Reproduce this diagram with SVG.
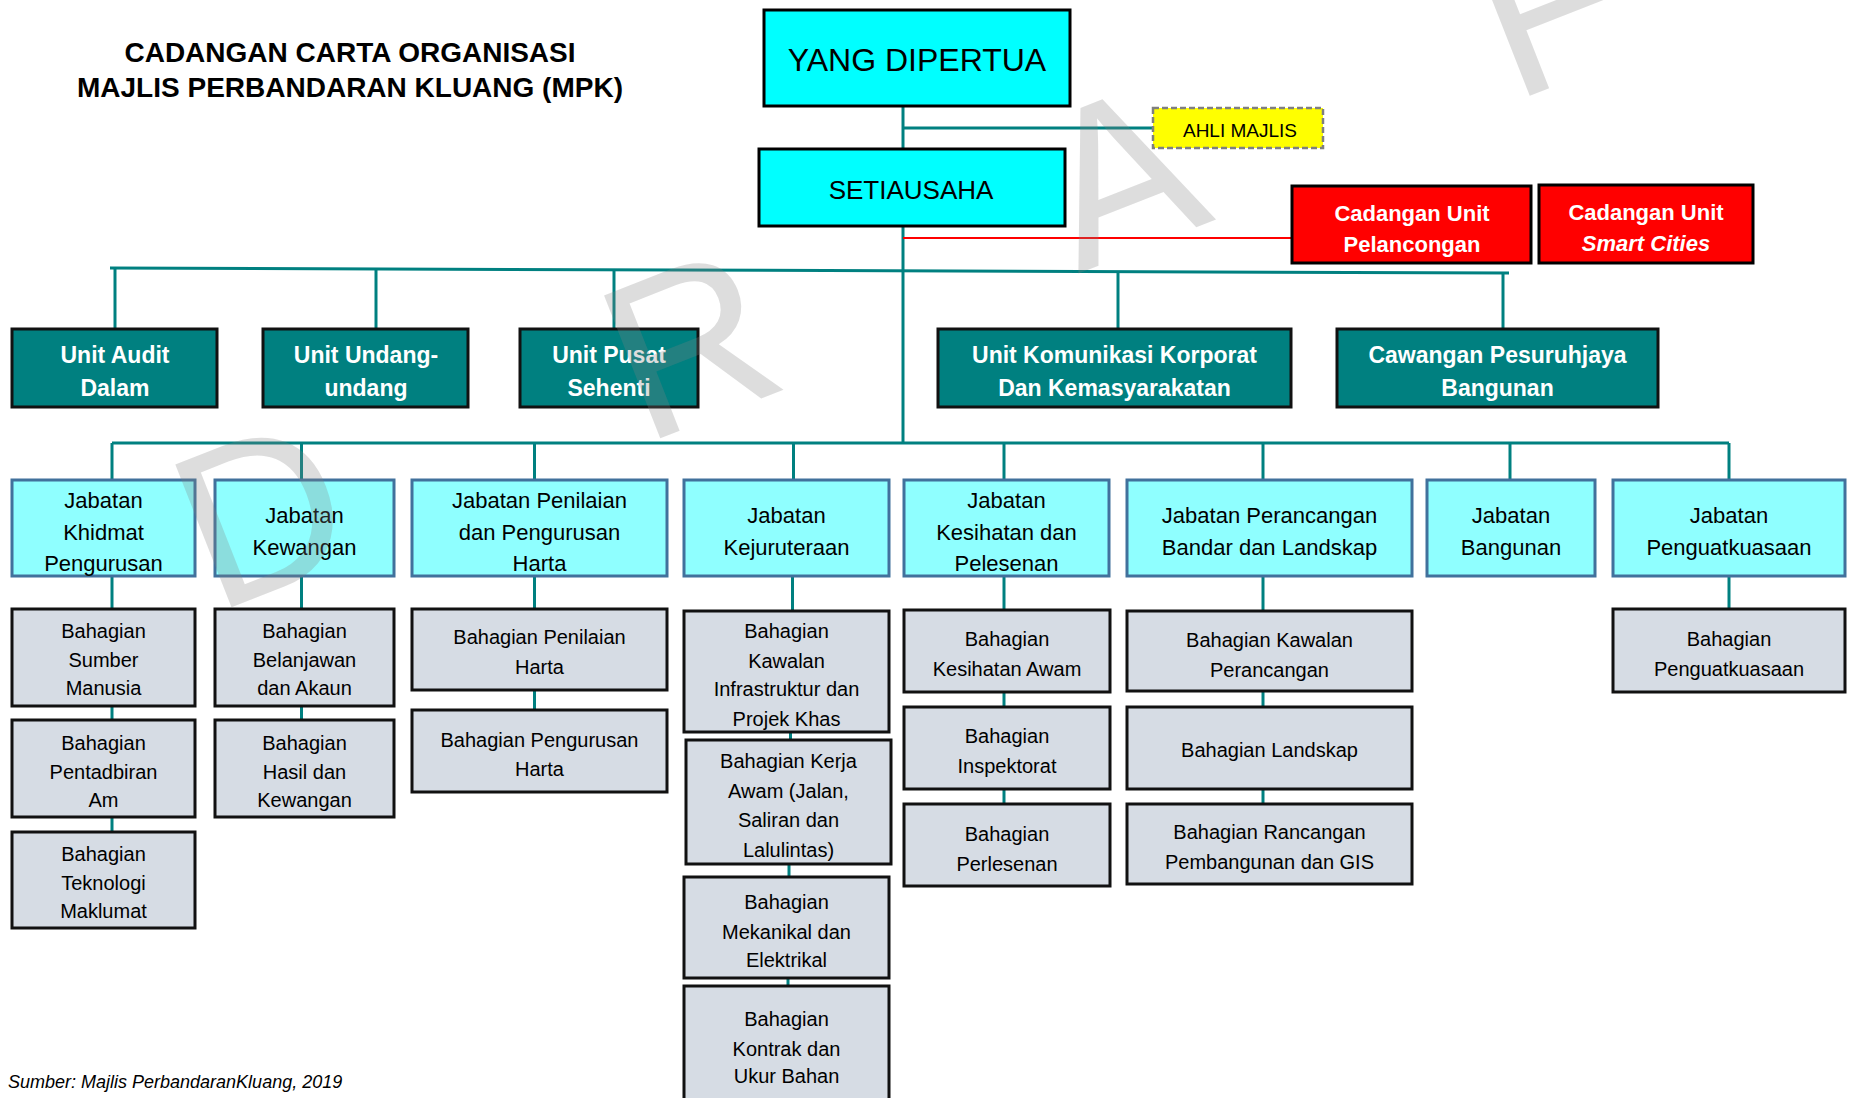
<svg xmlns="http://www.w3.org/2000/svg" width="1850" height="1098" viewBox="0 0 1850 1098">
<style>
text{font-family:"Liberation Sans",Arial,sans-serif;text-anchor:middle;fill:#000}
.title{font-size:28px;font-weight:bold}
.tl{stroke:#008080;stroke-width:3;fill:none}
.rdl{stroke:#FF0000;stroke-width:2;fill:none}
.top{fill:#00FFFF;stroke:#000;stroke-width:3}
.ahli{fill:#FFFF00;stroke:#7F7F7F;stroke-width:2.5;stroke-dasharray:6 3}
.red{fill:#FF0000;stroke:#000;stroke-width:3}
.unit{fill:#008080;stroke:#111;stroke-width:3}
.jab{fill:#8FFFFF;stroke:#41719C;stroke-width:3}
.bah{fill:#D6DCE4;stroke:#111;stroke-width:3}
.wb{fill:#FFFFFF;font-weight:bold;font-size:22px}
.u{fill:#FFFFFF;font-weight:bold;font-size:23px}
.j{font-size:22px}
.b{font-size:20px}
</style>

<g id="title">
<text class="title" x="350" y="62">CADANGAN CARTA ORGANISASI</text>
<text class="title" x="350" y="97">MAJLIS PERBANDARAN KLUANG (MPK)</text>
</g>

<g id="connectors">
<line class="tl" x1="903" y1="106" x2="903" y2="149"/>
<line class="tl" x1="903" y1="128" x2="1153" y2="128"/>
<line class="tl" x1="903" y1="226" x2="903" y2="443"/>
<line class="rdl" x1="903" y1="238" x2="1292" y2="238"/>
<line class="tl" x1="110" y1="268" x2="1509" y2="273"/>
<line class="tl" x1="115" y1="268" x2="115" y2="329"/>
<line class="tl" x1="376" y1="269" x2="376" y2="329"/>
<line class="tl" x1="614" y1="270" x2="614" y2="329"/>
<line class="tl" x1="1118" y1="272" x2="1118" y2="329"/>
<line class="tl" x1="1503" y1="273" x2="1503" y2="329"/>
<line class="tl" x1="112" y1="443" x2="1729" y2="443"/>
<line class="tl" x1="112" y1="443" x2="112" y2="480"/>
<line class="tl" x1="301.5" y1="443" x2="301.5" y2="480"/>
<line class="tl" x1="534.5" y1="443" x2="534.5" y2="480"/>
<line class="tl" x1="793.5" y1="443" x2="793.5" y2="480"/>
<line class="tl" x1="1004" y1="443" x2="1004" y2="480"/>
<line class="tl" x1="1263" y1="443" x2="1263" y2="480"/>
<line class="tl" x1="1510" y1="443" x2="1510" y2="480"/>
<line class="tl" x1="1729" y1="443" x2="1729" y2="480"/>
<line class="tl" x1="112" y1="576" x2="112" y2="609"/>
<line class="tl" x1="112" y1="706" x2="112" y2="720"/>
<line class="tl" x1="112" y1="817" x2="112" y2="832"/>
<line class="tl" x1="301.5" y1="576" x2="301.5" y2="609"/>
<line class="tl" x1="301.5" y1="706" x2="301.5" y2="720"/>
<line class="tl" x1="534.5" y1="576" x2="534.5" y2="609"/>
<line class="tl" x1="534.5" y1="690" x2="534.5" y2="710"/>
<line class="tl" x1="792.5" y1="576" x2="792.5" y2="611"/>
<line class="tl" x1="790.5" y1="732" x2="790.5" y2="740"/>
<line class="tl" x1="789" y1="864" x2="789" y2="877"/>
<line class="tl" x1="788" y1="978" x2="788" y2="986"/>
<line class="tl" x1="1004" y1="576" x2="1004" y2="610"/>
<line class="tl" x1="1004" y1="692" x2="1004" y2="707"/>
<line class="tl" x1="1004" y1="789" x2="1004" y2="804"/>
<line class="tl" x1="1263" y1="576" x2="1263" y2="611"/>
<line class="tl" x1="1263" y1="691" x2="1263" y2="707"/>
<line class="tl" x1="1263" y1="789" x2="1263" y2="804"/>
<line class="tl" x1="1729" y1="576" x2="1729" y2="609"/>
</g>

<g id="yang-dipertua"><rect class="top" x="764" y="10" width="306" height="96"/><text x="917" y="71" font-size="32">YANG DIPERTUA</text></g>
<g id="setiausaha"><rect class="top" x="759" y="149" width="306" height="77"/><text x="911" y="199" font-size="26">SETIAUSAHA</text></g>
<g id="ahli-majlis"><rect class="ahli" x="1153" y="108" width="170" height="40"/><text x="1240" y="137" font-size="19">AHLI MAJLIS</text></g>
<g id="unit-pelancongan"><rect class="red" x="1292" y="186" width="239" height="77"/><text class="wb" x="1412" y="221">Cadangan Unit</text><text class="wb" x="1412" y="252">Pelancongan</text></g>
<g id="unit-smart-cities"><rect class="red" x="1539" y="185" width="214" height="78"/><text class="wb" x="1646" y="220">Cadangan Unit</text><text class="wb" x="1646" y="251" font-style="italic">Smart Cities</text></g>

<g id="unit-audit"><rect class="unit" x="12" y="329" width="205" height="78"/><text class="u" x="115" y="363">Unit Audit</text><text class="u" x="115" y="396">Dalam</text></g>
<g id="unit-undang"><rect class="unit" x="263" y="329" width="205" height="78"/><text class="u" x="366" y="363">Unit Undang-</text><text class="u" x="366" y="396">undang</text></g>
<g id="unit-pusat"><rect class="unit" x="520" y="329" width="178" height="78"/><text class="u" x="609" y="363">Unit Pusat</text><text class="u" x="609" y="396">Sehenti</text></g>
<g id="unit-komunikasi"><rect class="unit" x="938" y="329" width="353" height="78"/><text class="u" x="1114.5" y="363">Unit Komunikasi Korporat</text><text class="u" x="1114.5" y="396">Dan Kemasyarakatan</text></g>
<g id="cawangan-pesuruhjaya"><rect class="unit" x="1337" y="329" width="321" height="78"/><text class="u" x="1497.5" y="363">Cawangan Pesuruhjaya</text><text class="u" x="1497.5" y="396">Bangunan</text></g>

<g id="jab-khidmat"><rect class="jab" x="12" y="480" width="183" height="96"/><text class="j" x="103.5" y="508">Jabatan</text><text class="j" x="103.5" y="539.5">Khidmat</text><text class="j" x="103.5" y="571">Pengurusan</text></g>
<g id="jab-kewangan"><rect class="jab" x="215" y="480" width="179" height="96"/><text class="j" x="304.5" y="523">Jabatan</text><text class="j" x="304.5" y="555">Kewangan</text></g>
<g id="jab-penilaian"><rect class="jab" x="412" y="480" width="255" height="96"/><text class="j" x="539.5" y="508">Jabatan Penilaian</text><text class="j" x="539.5" y="539.5">dan Pengurusan</text><text class="j" x="539.5" y="571">Harta</text></g>
<g id="jab-kejuruteraan"><rect class="jab" x="684" y="480" width="205" height="96"/><text class="j" x="786.5" y="523">Jabatan</text><text class="j" x="786.5" y="555">Kejuruteraan</text></g>
<g id="jab-kesihatan"><rect class="jab" x="904" y="480" width="205" height="96"/><text class="j" x="1006.5" y="508">Jabatan</text><text class="j" x="1006.5" y="539.5">Kesihatan dan</text><text class="j" x="1006.5" y="571">Pelesenan</text></g>
<g id="jab-perancangan"><rect class="jab" x="1127" y="480" width="285" height="96"/><text class="j" x="1269.5" y="523">Jabatan Perancangan</text><text class="j" x="1269.5" y="555">Bandar dan Landskap</text></g>
<g id="jab-bangunan"><rect class="jab" x="1427" y="480" width="168" height="96"/><text class="j" x="1511" y="523">Jabatan</text><text class="j" x="1511" y="555">Bangunan</text></g>
<g id="jab-penguatkuasaan"><rect class="jab" x="1613" y="480" width="232" height="96"/><text class="j" x="1729" y="523">Jabatan</text><text class="j" x="1729" y="555">Penguatkuasaan</text></g>

<g id="bah-sumber"><rect class="bah" x="12" y="609" width="183" height="97"/><text class="b" x="103.5" y="638">Bahagian</text><text class="b" x="103.5" y="667">Sumber</text><text class="b" x="103.5" y="695">Manusia</text></g>
<g id="bah-pentadbiran"><rect class="bah" x="12" y="720" width="183" height="97"/><text class="b" x="103.5" y="750">Bahagian</text><text class="b" x="103.5" y="779">Pentadbiran</text><text class="b" x="103.5" y="807">Am</text></g>
<g id="bah-teknologi"><rect class="bah" x="12" y="832" width="183" height="96"/><text class="b" x="103.5" y="861">Bahagian</text><text class="b" x="103.5" y="890">Teknologi</text><text class="b" x="103.5" y="918">Maklumat</text></g>
<g id="bah-belanjawan"><rect class="bah" x="215" y="609" width="179" height="97"/><text class="b" x="304.5" y="638">Bahagian</text><text class="b" x="304.5" y="667">Belanjawan</text><text class="b" x="304.5" y="695">dan Akaun</text></g>
<g id="bah-hasil"><rect class="bah" x="215" y="720" width="179" height="97"/><text class="b" x="304.5" y="750">Bahagian</text><text class="b" x="304.5" y="779">Hasil dan</text><text class="b" x="304.5" y="807">Kewangan</text></g>
<g id="bah-penilaian"><rect class="bah" x="412" y="609" width="255" height="81"/><text class="b" x="539.5" y="644">Bahagian Penilaian</text><text class="b" x="539.5" y="674">Harta</text></g>
<g id="bah-pengurusan"><rect class="bah" x="412" y="710" width="255" height="82"/><text class="b" x="539.5" y="747">Bahagian Pengurusan</text><text class="b" x="539.5" y="776">Harta</text></g>
<g id="bah-kawalan-infra"><rect class="bah" x="684" y="611" width="205" height="121"/><text class="b" x="786.5" y="638">Bahagian</text><text class="b" x="786.5" y="668">Kawalan</text><text class="b" x="786.5" y="696">Infrastruktur dan</text><text class="b" x="786.5" y="726">Projek Khas</text></g>
<g id="bah-kerja-awam"><rect class="bah" x="686" y="740" width="205" height="124"/><text class="b" x="788.5" y="768">Bahagian Kerja</text><text class="b" x="788.5" y="798">Awam (Jalan,</text><text class="b" x="788.5" y="827">Saliran dan</text><text class="b" x="788.5" y="857">Lalulintas)</text></g>
<g id="bah-mekanikal"><rect class="bah" x="684" y="877" width="205" height="101"/><text class="b" x="786.5" y="909">Bahagian</text><text class="b" x="786.5" y="939">Mekanikal dan</text><text class="b" x="786.5" y="967">Elektrikal</text></g>
<g id="bah-kontrak"><rect class="bah" x="684" y="986" width="205" height="125"/><text class="b" x="786.5" y="1026">Bahagian</text><text class="b" x="786.5" y="1056">Kontrak dan</text><text class="b" x="786.5" y="1083">Ukur Bahan</text></g>
<g id="bah-kesihatan"><rect class="bah" x="904" y="610" width="206" height="82"/><text class="b" x="1007" y="646">Bahagian</text><text class="b" x="1007" y="676">Kesihatan Awam</text></g>
<g id="bah-inspektorat"><rect class="bah" x="904" y="707" width="206" height="82"/><text class="b" x="1007" y="743">Bahagian</text><text class="b" x="1007" y="773">Inspektorat</text></g>
<g id="bah-perlesenan"><rect class="bah" x="904" y="804" width="206" height="82"/><text class="b" x="1007" y="841">Bahagian</text><text class="b" x="1007" y="871">Perlesenan</text></g>
<g id="bah-kawalan-perancangan"><rect class="bah" x="1127" y="611" width="285" height="80"/><text class="b" x="1269.5" y="647">Bahagian Kawalan</text><text class="b" x="1269.5" y="677">Perancangan</text></g>
<g id="bah-landskap"><rect class="bah" x="1127" y="707" width="285" height="82"/><text class="b" x="1269.5" y="757">Bahagian Landskap</text></g>
<g id="bah-rancangan"><rect class="bah" x="1127" y="804" width="285" height="80"/><text class="b" x="1269.5" y="839">Bahagian Rancangan</text><text class="b" x="1269.5" y="869">Pembangunan dan GIS</text></g>
<g id="bah-penguatkuasaan"><rect class="bah" x="1613" y="609" width="232" height="83"/><text class="b" x="1729" y="646">Bahagian</text><text class="b" x="1729" y="676">Penguatkuasaan</text></g>

<text x="8" y="1088" font-size="18" font-style="italic" style="text-anchor:start">Sumber: Majlis PerbandaranKluang, 2019</text>

<text transform="translate(260,510) rotate(-21.5)" x="0 461 922 1383 1844" y="80" font-size="223" style="fill:#808080;fill-opacity:0.27">DRAFT</text>
</svg>
